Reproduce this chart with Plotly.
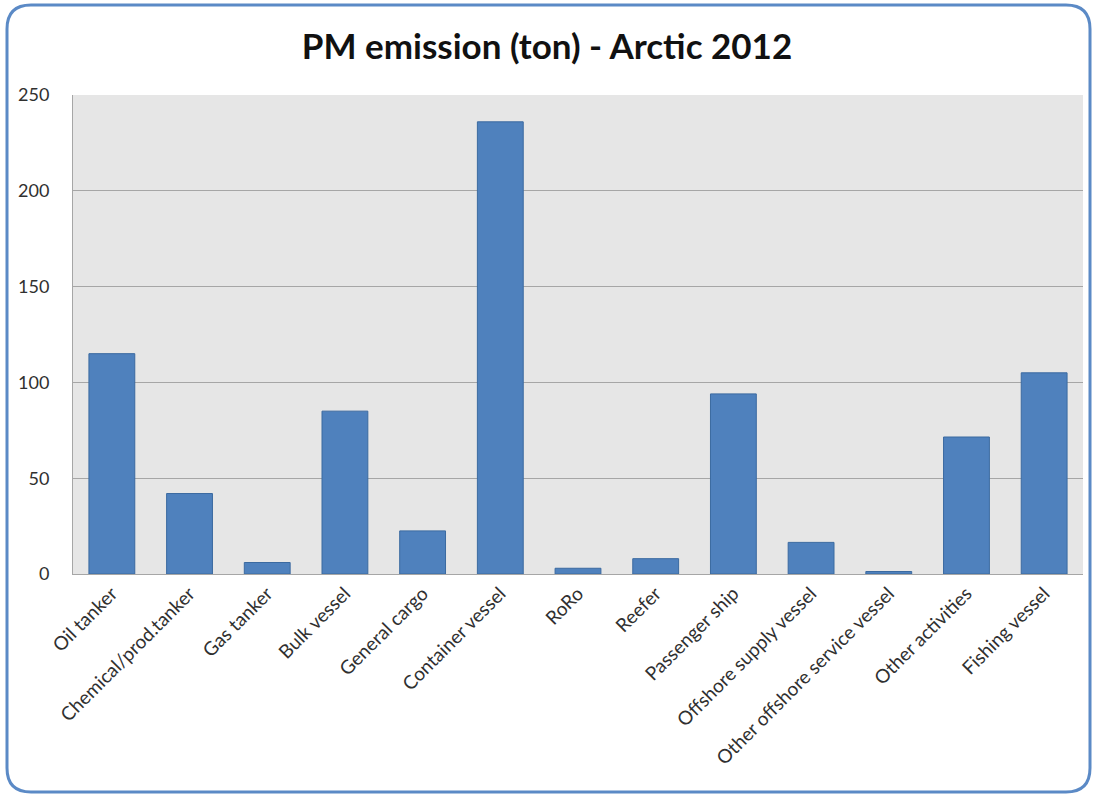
import plotly.graph_objects as go

categories = [
    "Oil tanker", "Chemical/prod.tanker", "Gas tanker", "Bulk vessel",
    "General cargo", "Container vessel", "RoRo", "Reefer", "Passenger ship",
    "Offshore supply vessel", "Other offshore service vessel",
    "Other activities", "Fishing vessel",
]
pm_tons = [115, 42, 6, 85, 22.5, 236, 3, 8, 94, 16.5, 1.3, 71.5, 105]
y_ticks = [0, 50, 100, 150, 200, 250]

W, H = 1094, 795
L, R, T, B = 73, 11, 95, 221
pw, ph = W - L - R, H - T - B


def px(x):
    return (x - L) / pw


def py(y):
    return (H - B - y) / ph


fig = go.Figure(
    go.Bar(
        x=categories,
        y=pm_tons,
        marker=dict(color="#4f81bd", line=dict(color="#3b6aa0", width=1)),
    )
)

# rounded outer frame around the whole chart
x0, x1, y0, y1, r = 7, 1090, 5, 792, 24
path = (
    f"M {px(x0 + r)},{py(y0)} L {px(x1 - r)},{py(y0)} "
    f"Q {px(x1)},{py(y0)} {px(x1)},{py(y0 + r)} "
    f"L {px(x1)},{py(y1 - r)} Q {px(x1)},{py(y1)} {px(x1 - r)},{py(y1)} "
    f"L {px(x0 + r)},{py(y1)} Q {px(x0)},{py(y1)} {px(x0)},{py(y1 - r)} "
    f"L {px(x0)},{py(y0 + r)} Q {px(x0)},{py(y0)} {px(x0 + r)},{py(y0)} Z"
)

fig.update_layout(
    width=W,
    height=H,
    margin=dict(l=L, r=R, t=T, b=B),
    paper_bgcolor="white",
    plot_bgcolor="#e6e6e6",
    bargap=0.41,
    showlegend=False,
    font=dict(family="Lato, Open Sans, sans-serif", color="#404040"),
    title=dict(
        text="<b>PM emission (ton) - Arctic 2012</b>",
        x=0.5,
        xanchor="center",
        y=1 - 47 / H,
        yanchor="middle",
        font=dict(size=35, color="#111111", family="Lato, Open Sans, sans-serif"),
    ),
    xaxis=dict(
        tickangle=-45,
        tickfont=dict(size=19, color="#303030"),
        showline=True,
        linecolor="#a6a6a6",
        linewidth=1,
        ticks="",
        showgrid=False,
    ),
    yaxis=dict(
        range=[0, 250],
        tickvals=y_ticks,
        tickfont=dict(size=18, color="#303030"),
        showgrid=True,
        gridcolor="#a6a6a6",
        gridwidth=1,
        showline=True,
        linecolor="#a6a6a6",
        linewidth=1,
        ticks="",
        ticklabelstandoff=19,
        zeroline=False,
    ),
    shapes=[
        dict(
            type="path",
            path=path,
            xref="paper",
            yref="paper",
            line=dict(color="#5b8ac6", width=3),
            layer="above",
        )
    ],
)

fig.write_html("out.html")
